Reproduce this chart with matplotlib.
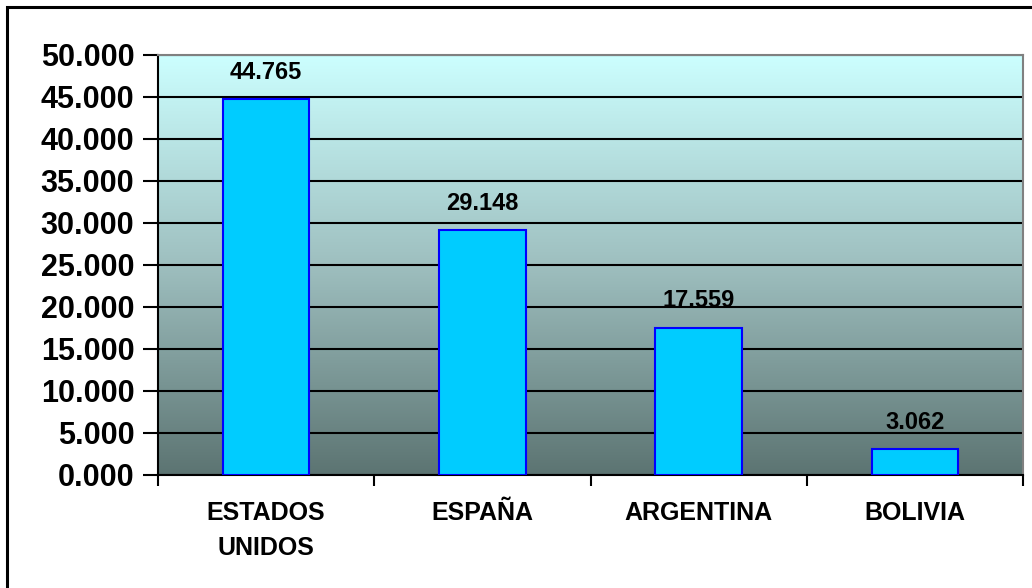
import numpy as np
import matplotlib.pyplot as plt
from matplotlib.colors import LinearSegmentedColormap
from matplotlib.patches import Rectangle

paises = ["ESTADOS\nUNIDOS", "ESPAÑA", "ARGENTINA", "BOLIVIA"]
valores = [44.765, 29.148, 17.559, 3.062]
yticks = [0, 5, 10, 15, 20, 25, 30, 35, 40, 45, 50]

plt.rcParams['font.family'] = ['Liberation Sans', 'DejaVu Sans']
plt.rcParams['font.weight'] = 'bold'

fig = plt.figure(figsize=(10.32, 5.88), dpi=100)
ax = fig.add_axes([158 / 1032, 113 / 588, 865 / 1032, 420 / 588])

# outer frame (runs off the right and bottom edges)
fig.patches.append(Rectangle((7 / 1032, -0.05), 1.1, 1 - 7 / 588 + 0.05,
                             transform=fig.transFigure, fill=False,
                             edgecolor='black', lw=2.2))

# gradient background of plot area
cmap = LinearSegmentedColormap.from_list("bg", ["#5c7472", "#9ebfbf", "#ccffff"])
grad = np.linspace(0, 1, 256).reshape(-1, 1)
ax.imshow(grad, cmap=cmap, aspect='auto', origin='lower',
          extent=[-0.5, 3.5, 0, 50], zorder=0)

x = np.arange(len(paises))
bars = ax.bar(x, valores, width=0.4, color='#00ccff', edgecolor='#0000ff',
              linewidth=1.5, zorder=3)

for xi, v in zip(x, valores):
    ax.annotate(f"{v:.3f}", (xi, v), xytext=(0, 11), textcoords='offset points',
                ha='center', va='bottom', fontsize=17, fontweight='bold')

ax.set_xlim(-0.5, 3.5)
ax.set_ylim(0, 50)
ax.set_yticks(yticks)
ax.set_yticklabels([f"{t:.3f}" for t in yticks], fontsize=22, fontweight='bold')
ax.yaxis.grid(True, color='black', lw=1.5, zorder=1)
ax.set_axisbelow(True)

ax.set_xticks(x)
ax.set_xticklabels(paises, fontsize=18, fontweight='bold', linespacing=1.55)
ax.tick_params(axis='x', length=0, pad=19)
ax.set_xticks(np.arange(-0.5, 4, 1), minor=True)
ax.tick_params(axis='x', which='minor', length=8, width=1.5, direction='out')
ax.tick_params(axis='y', length=11, width=1.5, direction='out', pad=6)

for s in ['left', 'bottom']:
    ax.spines[s].set_color('black')
    ax.spines[s].set_linewidth(1.5)
for s in ['top', 'right']:
    ax.spines[s].set_color('#808080')
    ax.spines[s].set_linewidth(1.5)

fig.savefig("out.png", dpi=100)
